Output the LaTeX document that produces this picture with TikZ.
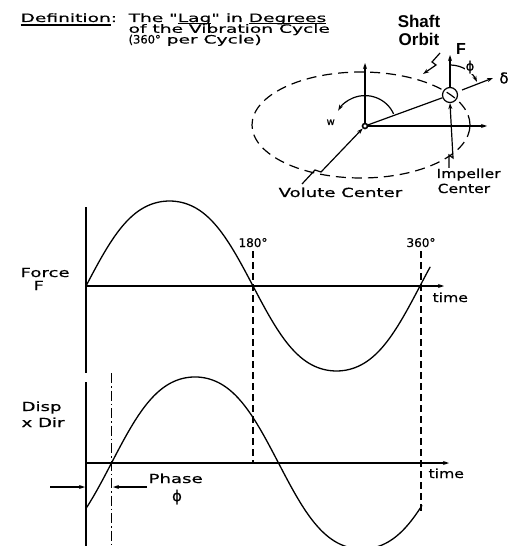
\documentclass[tikz,border=0pt]{standalone}
\usepackage{fontspec}
\usetikzlibrary{arrows.meta,calc}
\newfontfamily\pf[FakeStretch=1.45,FakeBold=0.6]{DejaVu Sans}
\newfontfamily\pft[FakeStretch=1.62,FakeBold=0.6]{DejaVu Sans}
\newfontfamily\pfc[FakeStretch=1.25,FakeBold=0.6]{DejaVu Sans}
\newfontfamily\pn[FakeBold=0.6]{DejaVu Sans}
\newfontfamily\hf{Liberation Sans}
\newcommand\myul[1]{\leavevmode\setbox0\hbox{#1}\rlap{\rule[-2.2bp]{\wd0}{1.2bp}}\box0}
\newcommand\myulb[1]{\leavevmode\setbox0\hbox{#1}\rlap{\rule[-4.2bp]{\wd0}{2.6bp}}\box0}
\begin{document}
\begin{tikzpicture}[x=1bp,y=-1bp,line width=1.2bp,
  lbl/.style={anchor=base west,inner sep=0pt,font=\pf\fontsize{12.5bp}{10.5bp}\selectfont},
  ttl/.style={anchor=base west,inner sep=0pt,font=\pft\fontsize{11.5bp}{10.5bp}\selectfont},
  lblc/.style={anchor=base west,inner sep=0pt,font=\pfc\fontsize{12.5bp}{10.5bp}\selectfont},
  num/.style={anchor=base,inner sep=0pt,font=\pn\fontsize{12bp}{12bp}\selectfont},
  arr/.style={-{Stealth[length=6bp,width=4bp]}},
  dashv/.style={dash pattern=on 7bp off 4bp},
  curve/.style={line width=1.3bp}]
\useasboundingbox (0,0) rectangle (510,546);
\clip (0,0) rectangle (510,546);

% ---------- title ----------
\node[ttl] (def) at (20,22) {\myulb{Definition}:};
\node[ttl] (t1) at (128,22) {The "\myul{Lag}" in \myul{Degrees}};
\node[ttl] (t2) at (128,32.8) {of the Vibration Cycle};
\node[ttl] (t3) at (128,43.5) {{\pn (360°} per Cycle)};

% ---------- orbit sketch ----------
\coordinate (vc) at (365,126);
\coordinate (ic) at (450,95);
\draw[dash pattern=on 10bp off 6bp] (361,125) ellipse [x radius=109bp, y radius=53bp];
\coordinate (vup) at (365,63);
\coordinate (hr) at (487,126);
\draw[arr] (vc) -- (vup);
\draw[arr] (vc) -- (hr);
\node[circle,draw,minimum size=15bp,inner sep=0pt] (icn) at (ic) {};
\node[circle,draw,fill=white,minimum size=5bp,inner sep=0pt,line width=1.6bp] (vcn) at (vc) {};
\draw (vcn) -- (icn);
\coordinate (ftip) at (450,55);
\draw[arr] (icn.north) -- (ftip);
\coordinate (dst) at (462,90);
\coordinate (dtip) at (493,78);
\draw[arr] (dst) -- (dtip);
\draw[arr] ($(ic)+(88:30bp)$) arc[start angle=88,end angle=26,radius=30bp];
\draw[arr] ($(vc)+(23:31bp)$) arc[start angle=23,end angle=150,x radius=31bp,y radius=30bp];
\node[anchor=base west,inner sep=0pt,font=\pn\fontsize{10bp}{10bp}\selectfont] (w) at (326,125) {w};

\node[anchor=base,inner sep=0pt,font=\hf\bfseries\fontsize{17bp}{17bp}\selectfont] (sh) at (419,28) {Shaft};
\node[anchor=base,inner sep=0pt,font=\hf\bfseries\fontsize{17bp}{17bp}\selectfont] (ob) at (419,46) {Orbit};
\node[anchor=base,inner sep=0pt,font=\hf\bfseries\fontsize{16bp}{16bp}\selectfont] (F) at (461,55) {F};
\node[inner sep=0pt,font=\pn\fontsize{15bp}{15bp}\selectfont] (delta) at (504,78) {δ};
\node[inner sep=0.3pt,fill=white,font=\pn\fontsize{13bp}{13bp}\selectfont] (phi1) at (470,67) {ϕ};

% leaders
\coordinate (so1) at (440,53);
\coordinate (so2) at (423,74);
\draw[arr] (so1) -- (432,62) -- (436,65) -- (so2);
\node[lbl] (vl) at (278,197) {Volute Center};
\coordinate (vl1) at (302,184);
\draw[arr] (vl1) -- (315,170) -- (321,172) -- (vcn);
\node[lblc] (il1) at (436,178) {Impeller};
\node[lblc] (il2) at (437,193) {Center};
\coordinate (ip1) at (449,168);
\draw[arr] (ip1) -- (449,155) -- (453,158) -- (icn.south);

% ---------- force graph ----------
\coordinate (fo) at (86,286);
\coordinate (fy) at (86,207);
\coordinate (fyb) at (86,373);
\coordinate (fx) at (444,286);
\draw (fy) -- (fyb);
\draw[arr] (fo) -- (fx);
\draw[curve] plot[domain=0:371,samples=120,smooth] ({86+0.927778*\x},{286-89*(sin(\x)+0.045*sin(3*\x))});
\node[lbl] (force) at (20,277) {Force};
\node[lbl] (fF) at (33,290) {F};
\node[lblc] (time1) at (432,302) {time};
\node[num] (d180) at (253,247) {180°};
\node[num] (d360) at (421,247) {360°};

% ---------- displacement graph ----------
\coordinate (do) at (86,463);
\coordinate (dy) at (86,382);
\coordinate (dyb) at (86,546);
\coordinate (dx) at (449,463);
\draw (dy) -- (dyb);
\draw[arr] (do) -- (dx);
\draw[curve] plot[domain=-27.5:334.7,samples=120,smooth] ({111.5+0.927778*\x},{463-90*(sin(\x)+0.044*sin(3*\x))});
\node[lbl] (disp) at (21,411) {Disp};
\node[lbl] (xdir) at (21,427) {x Dir};
\node[lblc] (time2) at (428,478) {time};

% reference lines
\draw[dashv] (253,251) -- (253,463);
\draw[dashv] (421,251) -- (421,512);
\draw[dash pattern=on 10bp off 3bp on 1.5bp off 3bp] (111.5,373) -- (111.5,546);

% phase
\coordinate (pa1) at (50,487);
\coordinate (pa2) at (85,487);
\coordinate (pb1) at (147,487);
\coordinate (pb2) at (113,487);
\draw[arr] (pa1) -- (pa2);
\draw[arr] (pb1) -- (pb2);
\node[lbl] (phase) at (148,483) {Phase};
\node[inner sep=0pt,font=\pn\fontsize{15bp}{15bp}\selectfont] (phi2) at (177,497) {ϕ};
\end{tikzpicture}
\end{document}
